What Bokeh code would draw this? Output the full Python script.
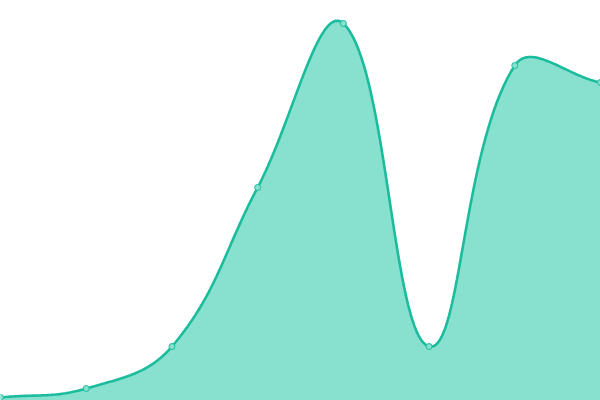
import numpy as np
from bokeh.plotting import figure
from bokeh.models import Range1d
from bokeh.embed import file_html
from bokeh.resources import INLINE

# data
categories = [0, 1, 2, 3, 4, 5, 6, 7]
values = [3, 12, 54, 213, 377, 54, 335, 318]

W, H = 600, 400
TENSION = 0.4

def spline_path(xs, ys, sx, sy, n=40):
    # Chart.js-style cardinal spline computed in pixel space
    px = [x * sx for x in xs]
    py = [y * sy for y in ys]
    N = len(px)
    cps = []
    for i in range(N):
        pp = (px[max(i - 1, 0)], py[max(i - 1, 0)])
        cur = (px[i], py[i])
        nx = (px[min(i + 1, N - 1)], py[min(i + 1, N - 1)])
        d01 = np.hypot(cur[0] - pp[0], cur[1] - pp[1])
        d12 = np.hypot(nx[0] - cur[0], nx[1] - cur[1])
        tot = d01 + d12
        s01 = d01 / tot if tot else 0
        s12 = d12 / tot if tot else 0
        fa, fb = TENSION * s01, TENSION * s12
        cp_prev = (cur[0] - fa * (nx[0] - pp[0]), cur[1] - fa * (nx[1] - pp[1]))
        cp_next = (cur[0] + fb * (nx[0] - pp[0]), cur[1] + fb * (nx[1] - pp[1]))
        cps.append((cp_prev, cp_next))
    outx, outy = [], []
    t = np.linspace(0, 1, n)
    for i in range(N - 1):
        p0 = np.array([px[i], py[i]])
        p1 = np.array(cps[i][1])
        p2 = np.array(cps[i + 1][0])
        p3 = np.array([px[i + 1], py[i + 1]])
        for tt in t[:-1] if i < N - 2 else t:
            b = ((1 - tt) ** 3) * p0 + 3 * ((1 - tt) ** 2) * tt * p1 + 3 * (1 - tt) * tt * tt * p2 + tt ** 3 * p3
            outx.append(b[0] / sx)
            outy.append(b[1] / sy)
    return outx, outy

xs, ys = spline_path(categories, values, 600 / 7, 1.0)

p = figure(width=W, height=H, output_backend="svg", toolbar_location=None,
           x_range=Range1d(0, 7), y_range=Range1d(0, 400),
           min_border=0, min_border_left=0, min_border_right=0,
           min_border_top=0, min_border_bottom=0)
p.axis.visible = False
p.grid.visible = False
p.outline_line_color = None
p.background_fill_color = "white"
p.border_fill_color = "white"

p.varea(x=xs, y1=[0] * len(xs), y2=ys, fill_color="#88e0cf", fill_alpha=1.0)
p.line(x=xs, y=ys, line_color="#1abc9c", line_width=2.6)
p.scatter(x=categories, y=values, size=6, fill_color="#88e0cf",
          line_color="#1abc9c", line_width=1)

open("out.html", "w").write(file_html(p, INLINE))
